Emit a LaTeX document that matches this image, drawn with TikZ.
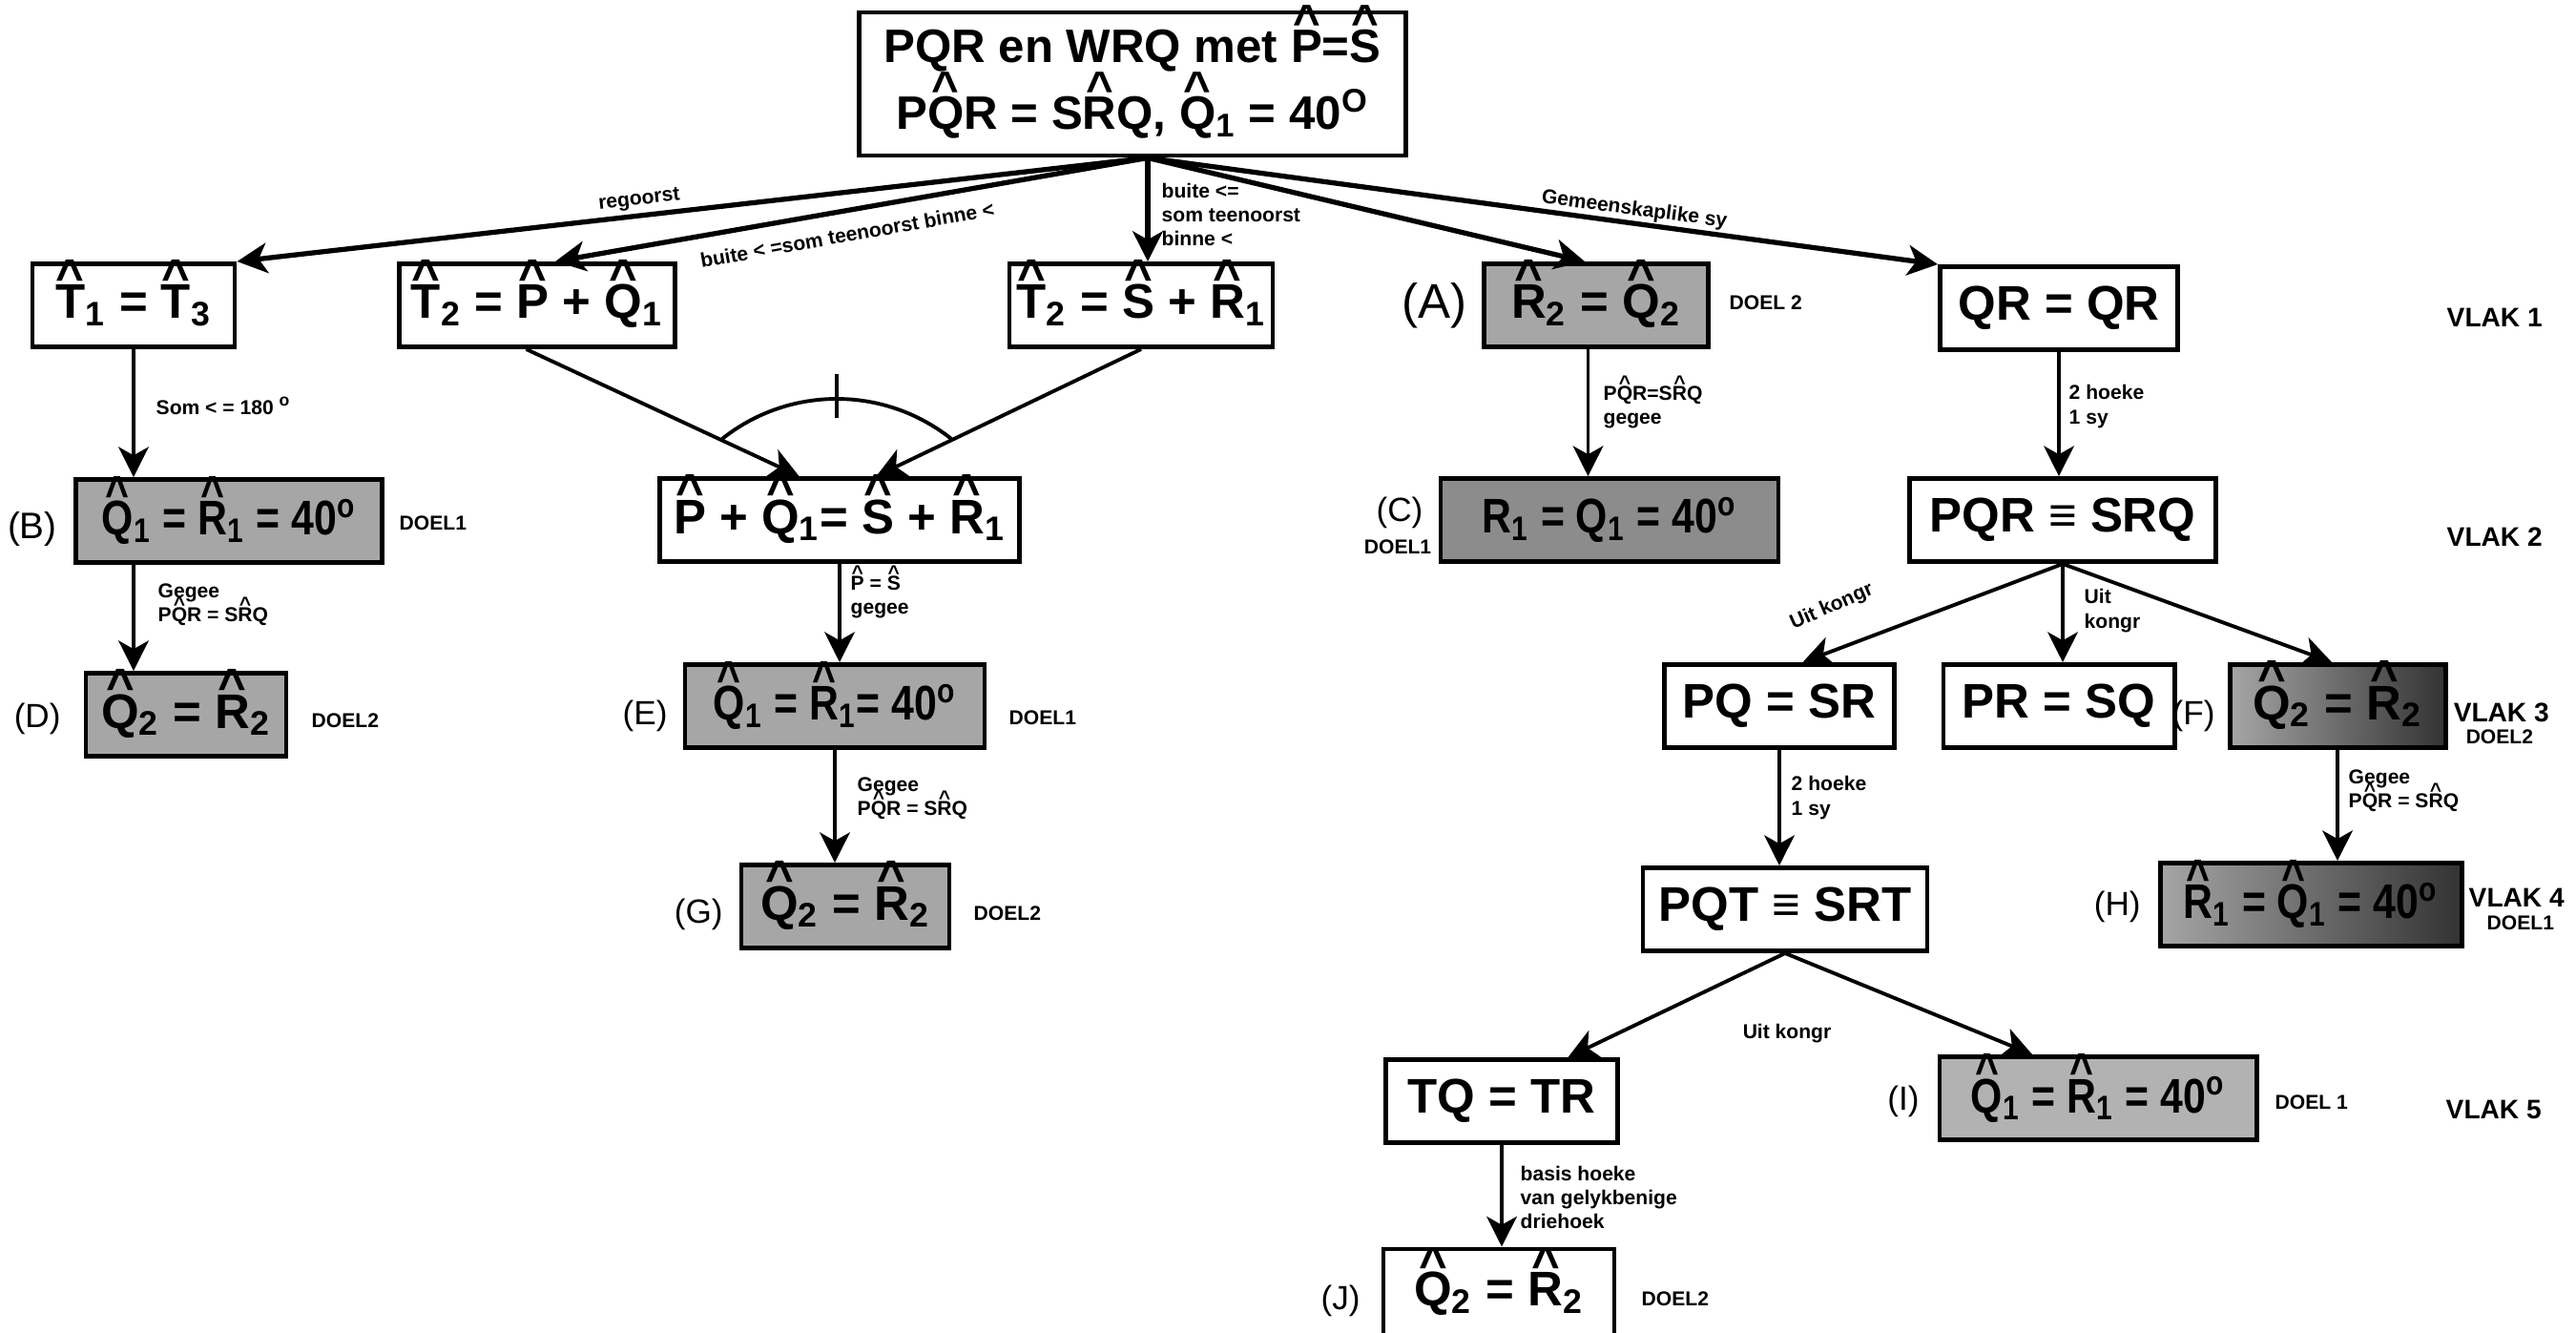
\documentclass[tikz,border=0pt]{standalone}
\usepackage{fontspec}
\setmainfont{Liberation Sans}
\newfontfamily\narrowfont[FakeStretch=0.84]{Liberation Sans}
\usetikzlibrary{arrows.meta}
\newcommand\hoek[1]{\ooalign{#1\cr\hidewidth\raisebox{.52em}{\textasciicircum}\hidewidth\cr}}
\tikzset{
  stepbox/.style={draw, line width=1.4pt, inner sep=1pt, minimum height=0.87cm,
    font=\bfseries\fontsize{14.5}{17}\selectfont},
  narrow/.style={font=\narrowfont\bfseries\fontsize{14.5}{17}\selectfont},
  goal/.style={stepbox, fill=black!35},
  darkgoal/.style={stepbox, left color=black!35, right color=black!80},
  tag/.style={font=\fontsize{10}{12}\selectfont},
  note/.style={font=\bfseries\fontsize{6}{7.2}\selectfont, align=left, inner sep=0pt},
  vlak/.style={font=\bfseries\fontsize{8}{9.6}\selectfont, inner sep=0pt},
  arr/.style={-{Stealth[length=9pt,width=9pt,inset=2.5pt]}, line width=1.1pt},
  thickarr/.style={arr, line width=1.5pt},
}
\begin{document}
\begin{tikzpicture}[x=1cm,y=1cm]
\useasboundingbox (0,0) rectangle (27,13.96);

\node[stepbox, minimum width=5.73cm, minimum height=1.5cm, align=center,
  font=\bfseries\fontsize{14}{20}\selectfont] (top) at (11.87,13.08)
  {PQR en WRQ met \hoek{P}=\hoek{S}\\ P\hoek{Q}R = S\hoek{R}Q, \hoek{Q}\textsubscript{1} = 40\textsuperscript{O}};

\node[stepbox, minimum width=2.12cm] (t13) at (1.40,10.76) {\hoek{T}\textsubscript{1} = \hoek{T}\textsubscript{3}};
\node[stepbox, minimum width=2.89cm] (t2pq) at (5.63,10.76) {\hoek{T}\textsubscript{2} = \hoek{P} + \hoek{Q}\textsubscript{1}};
\node[stepbox, minimum width=2.76cm] (t2sr) at (11.96,10.76) {\hoek{T}\textsubscript{2} = \hoek{S} + \hoek{R}\textsubscript{1}};
\node[goal, minimum width=2.35cm] (a) at (16.73,10.76) {\hoek{R}\textsubscript{2} = \hoek{Q}\textsubscript{2}};
\node[stepbox, minimum width=2.49cm] (qr) at (21.58,10.73) {QR = QR};

\node[goal, narrow, minimum width=3.21cm] (b) at (2.40,8.50) {\hoek{Q}\textsubscript{1} = \hoek{R}\textsubscript{1} = 40\textsuperscript{o}};
\node[stepbox, minimum width=3.77cm] (sum) at (8.80,8.51) {\hoek{P} + \hoek{Q}\textsubscript{1}= \hoek{S} + \hoek{R}\textsubscript{1}};
\node[goal, narrow, fill=black!45, minimum width=3.54cm] (c) at (16.87,8.51) {R\textsubscript{1} = Q\textsubscript{1} = 40\textsuperscript{o}};
\node[stepbox, minimum width=3.21cm] (pqr) at (21.62,8.51) {PQR ≡ SRQ};

\node[goal, minimum width=2.10cm] (d) at (1.95,6.47) {\hoek{Q}\textsubscript{2} = \hoek{R}\textsubscript{2}};
\node[goal, narrow, minimum width=3.14cm] (e) at (8.75,6.56) {\hoek{Q}\textsubscript{1} = \hoek{R}\textsubscript{1}= 40\textsuperscript{o}};
\node[stepbox, minimum width=2.41cm] (pq) at (18.65,6.56) {PQ = SR};
\node[stepbox, minimum width=2.42cm] (pr) at (21.58,6.56) {PR = SQ};
\node[darkgoal, minimum width=2.26cm] (f) at (24.50,6.56) {\hoek{Q}\textsubscript{2} = \hoek{R}\textsubscript{2}};

\node[goal, minimum width=2.18cm] (g) at (8.86,4.46) {\hoek{Q}\textsubscript{2} = \hoek{R}\textsubscript{2}};
\node[stepbox, minimum width=2.98cm] (pqt) at (18.71,4.43) {PQT ≡ SRT};
\node[darkgoal, narrow, minimum width=3.16cm] (h) at (24.22,4.48) {\hoek{R}\textsubscript{1} = \hoek{Q}\textsubscript{1} = 40\textsuperscript{o}};

\node[stepbox, minimum width=2.43cm] (tq) at (15.74,2.42) {TQ = TR};
\node[goal, narrow, fill=black!30, minimum width=3.32cm] (i) at (21.99,2.45) {\hoek{Q}\textsubscript{1} = \hoek{R}\textsubscript{1} = 40\textsuperscript{o}};
\node[stepbox, minimum width=2.42cm, minimum height=0.91cm] (j) at (15.71,0.415) {\hoek{Q}\textsubscript{2} = \hoek{R}\textsubscript{2}};

\node[tag, anchor=east, font=\fontsize{14.5}{17}\selectfont] (la) at (15.50,10.76) {(A)};
\node[tag, anchor=east, font=\fontsize{11}{13}\selectfont] (lb) at (0.72,8.42) {(B)};
\node[tag] (lc) at (14.67,8.59) {(C)};
\node[tag, anchor=east] (ld) at (0.76,6.43) {(D)};
\node[tag, anchor=east] (le) at (7.12,6.46) {(E)};
\node[tag, anchor=east] (lf) at (23.34,6.46) {(F)};
\node[tag, anchor=east] (lg) at (7.70,4.38) {(G)};
\node[tag, anchor=east] (lh) at (22.56,4.46) {(H)};
\node[tag, anchor=east] (li) at (20.24,2.42) {(I)};
\node[tag, anchor=east] (lj) at (14.38,0.33) {(J)};

\node[note, anchor=west] (da) at (18.12,10.79) {DOEL 2};
\node[note, anchor=west] (db) at (4.18,8.48) {DOEL1};
\node[note] (dc) at (14.65,8.23) {DOEL1};
\node[note, anchor=west] (dd) at (3.26,6.41) {DOEL2};
\node[note, anchor=west] (de) at (10.57,6.44) {DOEL1};
\node[note, anchor=west] (df) at (25.84,6.24) {DOEL2};
\node[note, anchor=west] (dg) at (10.20,4.39) {DOEL2};
\node[note, anchor=west] (dh) at (26.06,4.29) {DOEL1};
\node[note, anchor=west] (di) at (23.84,2.41) {DOEL 1};
\node[note, anchor=west] (dj) at (17.20,0.35) {DOEL2};

\node[vlak, anchor=west] (v1) at (25.64,10.63) {VLAK 1};
\node[vlak, anchor=west] (v2) at (25.64,8.33) {VLAK 2};
\node[vlak, anchor=west] (v3) at (25.71,6.49) {VLAK 3};
\node[vlak, anchor=west] (v4) at (25.87,4.55) {VLAK 4};
\node[vlak, anchor=west] (v5) at (25.63,2.33) {VLAK 5};

\coordinate (src) at ([xshift=1.6mm]top.south);
\draw[thickarr] (src) -- (t13.north east);
\draw[thickarr] (src) -- ([xshift=1.9mm]t2pq.north);
\draw[thickarr] (src) -- (src |- t2sr.north);
\draw[thickarr] (src) -- ([xshift=-1.2mm]a.north);
\draw[thickarr] (src) -- (qr.north west);

\node[note, rotate=6.5] (n1) at (6.70,11.86) {regoorst};
\node[note, rotate=10.1] (n2) at (8.88,11.50) {buite < =som teenoorst binne <};
\node[note, anchor=west] (n3) at (12.17,11.71) {buite <=\\som teenoorst\\binne <};
\node[note, rotate=-7.6] (n4) at (17.13,11.76) {Gemeenskaplike sy};

\draw[arr] ([xshift=-1.15mm]t2pq.south) -- ([xshift=-4.25mm]sum.north);
\draw[arr] (t2sr.south) -- ([xshift=3.85mm]sum.north);
\coordinate (arcc) at (8.77,7.85);
\draw[line width=1.1pt] ([shift={(128.5:1.93)}]arcc) arc[start angle=128.5, end angle=51.5, radius=1.93];
\draw[line width=1.1pt] (8.77,10.04) -- (8.77,9.58);

\draw[arr] (t13.south) -- (t13.south |- b.north);
\node[note, anchor=west] (n5) at (1.63,9.71) {Som < = 180 \textsuperscript{o}};
\draw[arr] (b.south -| t13.south) -- (d.north -| t13.south);
\node[note, anchor=west] (n6) at (1.65,7.62) {Gegee\\P\hoek{Q}R = S\hoek{R}Q};

\draw[arr] (sum.south) -- (sum.south |- e.north);
\node[note, anchor=west] (n7) at (8.91,7.70) {\hoek{P} = \hoek{S}\\gegee};
\draw[arr] (e.south) -- (e.south |- g.north);
\node[note, anchor=west] (n8) at (8.98,5.59) {Gegee\\P\hoek{Q}R = S\hoek{R}Q};

\draw[arr] ([xshift=-0.85mm]a.south) -- ([xshift=-0.85mm]a.south |- c.north);
\node[note, anchor=west] (n9) at (16.80,9.69) {P\hoek{Q}R=S\hoek{R}Q\\gegee};
\draw[arr] (qr.south) -- (qr.south |- pqr.north);
\node[note, anchor=west] (n10) at (21.68,9.70) {2 hoeke\\1 sy};

\draw[arr] (pqr.south) -- ([xshift=2.45mm]pq.north);
\draw[arr] (pqr.south) -- (pqr.south |- pr.north);
\draw[arr] (pqr.south) -- ([xshift=-0.6mm]f.north);
\node[note, rotate=23.7] (n11) at (19.20,7.60) {Uit kongr};
\node[note, anchor=west] (n12) at (21.84,7.56) {Uit\\kongr};

\draw[arr] (pq.south) -- (pq.south |- pqt.north);
\node[note, anchor=west] (n13) at (18.77,5.60) {2 hoeke\\1 sy};
\draw[arr] (f.south) -- (f.south |- h.north);
\node[note, anchor=west] (n14) at (24.61,5.67) {Gegee\\P\hoek{Q}R = S\hoek{R}Q};

\draw[arr] (pqt.south) -- ([xshift=6.95mm]tq.north);
\draw[arr] (pqt.south) -- ([xshift=-6.9mm]i.north);
\node[note] (n15) at (18.73,3.13) {Uit kongr};

\draw[arr] (tq.south) -- (tq.south |- j.north);
\node[note, anchor=west] (n16) at (15.93,1.41) {basis hoeke\\van gelykbenige\\driehoek};
\end{tikzpicture}
\end{document}
